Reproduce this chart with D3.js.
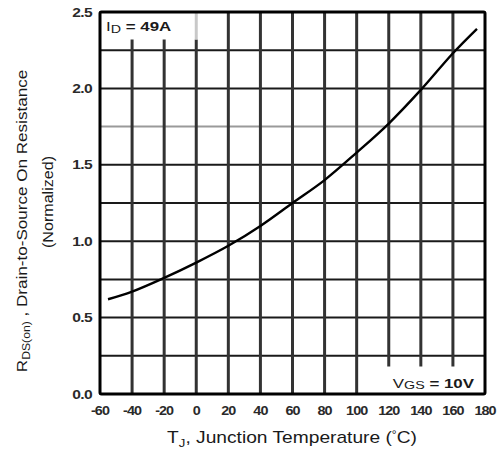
<!DOCTYPE html>
<html>
<head>
<meta charset="utf-8">
<script src="https://cdn.jsdelivr.net/npm/d3@7"></script>
<style>
  html, body { margin: 0; padding: 0; background: #fff; }
  svg { display: block; font-family: "Liberation Sans", Arial, sans-serif; }
</style>
</head>
<body>
<svg id="chart" width="503" height="452"></svg>
<script>
// Normalized on-resistance vs. junction temperature
const temperature = [-55, -40, -20, 0, 20, 40, 60, 80, 100, 120, 140, 160, 175];
const resistance  = [0.62, 0.67, 0.76, 0.86, 0.97, 1.10, 1.25, 1.40, 1.58, 1.77, 1.99, 2.23, 2.39];

const xTicks = [-60, -40, -20, 0, 20, 40, 60, 80, 100, 120, 140, 160, 180];
const yTicks = [0.0, 0.5, 1.0, 1.5, 2.0, 2.5];
const yGrid  = [0.25, 0.5, 0.75, 1.0, 1.25, 1.5, 1.75, 2.0, 2.25];

const svg = d3.select("#chart");
const m = { left: 100, right: 485, top: 12, bottom: 394 };

const x = d3.scaleLinear().domain([-60, 180]).range([m.left, m.right]);
const y = d3.scaleLinear().domain([0, 2.5]).range([m.bottom, m.top]);

// label boxes: top-left (ID) and bottom-right (VGS) clear the grid beneath them
const idBoxBottom = y(2.32);
const vgsBoxTop = y(0.18);

const g = svg.append("g");

// horizontal grid
g.selectAll("line.h").data(yGrid).enter().append("line")
  .attr("x1", m.left).attr("x2", m.right)
  .attr("y1", d => y(d)).attr("y2", d => y(d))
  .attr("stroke", d => d === 1.75 ? "#9a9a9a" : "#1a1a1a")
  .attr("stroke-width", 2);

// vertical grid
const vGrid = xTicks.slice(1, -1);
g.selectAll("line.v").data(vGrid).enter().append("line")
  .attr("x1", d => x(d)).attr("x2", d => x(d))
  .attr("y1", d => d <= 0 ? idBoxBottom : m.top)
  .attr("y2", d => d > 100 ? vgsBoxTop : m.bottom)
  .attr("stroke", "#333")
  .attr("stroke-width", 3);

// faint upper piece of the 0 °C line beside the ID label
g.append("line")
  .attr("x1", x(0)).attr("x2", x(0))
  .attr("y1", m.top).attr("y2", idBoxBottom)
  .attr("stroke", "#c8c8c8").attr("stroke-width", 3);

// frame
g.append("rect")
  .attr("x", m.left).attr("y", m.top)
  .attr("width", m.right - m.left).attr("height", m.bottom - m.top)
  .attr("rx", 1.5)
  .attr("fill", "none").attr("stroke", "#000").attr("stroke-width", 3);

// curve
const line = d3.line()
  .x((d, i) => x(temperature[i]))
  .y(d => y(d))
  .curve(d3.curveCatmullRom.alpha(0.5));
g.append("path")
  .datum(resistance)
  .attr("d", line)
  .attr("fill", "none")
  .attr("stroke", "#000")
  .attr("stroke-width", 2.4);

// text drawn with a wide face: horizontally stretched glyphs
function wide(sel, px, py, sx, rot) {
  return sel.attr("transform", `translate(${px},${py})` + (rot ? ` rotate(${rot})` : "") + ` scale(${sx},1)`);
}

// y tick labels
svg.append("g").selectAll("text").data(yTicks).enter().append("text")
  .each(function(d) { wide(d3.select(this), 92, y(d) + 4.5, 1.25); })
  .attr("text-anchor", "end")
  .attr("font-size", 12.5).attr("font-weight", "bold").attr("fill", "#2a2a2a")
  .attr("letter-spacing", -0.5)
  .text(d => d.toFixed(1));

// x tick labels
svg.append("g").selectAll("text").data(xTicks).enter().append("text")
  .each(function(d) { wide(d3.select(this), x(d), 415, 1.15); })
  .attr("text-anchor", "middle")
  .attr("font-size", 12.5).attr("font-weight", "bold").attr("fill", "#2a2a2a")
  .attr("letter-spacing", -0.8)
  .text(d => d);

// x axis title
const xt = svg.append("text")
  .attr("text-anchor", "middle")
  .attr("font-size", 16).attr("fill", "#1a1a1a");
wide(xt, 292, 443, 1.2);
xt.append("tspan").text("T");
xt.append("tspan").attr("font-size", 11).attr("dy", 4).text("J");
xt.append("tspan").attr("dy", -4).text(", Junction Temperature  (");
xt.append("tspan").attr("font-size", 10).attr("dy", -5).text("°");
xt.append("tspan").attr("dy", 5).text("C)");

// y axis title, two lines
const yt = svg.append("text")
  .attr("text-anchor", "middle")
  .attr("font-size", 14).attr("fill", "#1a1a1a");
wide(yt, 27, 221, 1.22, -90);
yt.append("tspan").text("R");
yt.append("tspan").attr("font-size", 10).attr("dy", 3).text("DS(on)");
yt.append("tspan").attr("dy", -3).text(" , Drain-to-Source On Resistance");

const yt2 = svg.append("text")
  .attr("text-anchor", "middle")
  .attr("font-size", 14).attr("fill", "#1a1a1a")
  .text("(Normalized)");
wide(yt2, 53, 202, 1.15, -90);

// annotations
const idLabel = svg.append("text")
  .attr("font-size", 13).attr("fill", "#1a1a1a");
wide(idLabel, 106, 31, 1.3);
idLabel.append("tspan").text("I");
idLabel.append("tspan").attr("font-size", 11).attr("dy", 2).text("D");
idLabel.append("tspan").attr("dy", -2).attr("font-weight", "bold").text(" = 49A");

const vgsLabel = svg.append("text")
  .attr("text-anchor", "end")
  .attr("font-size", 13).attr("fill", "#1a1a1a");
wide(vgsLabel, 474, 388, 1.3);
vgsLabel.append("tspan").text("V");
vgsLabel.append("tspan").attr("font-size", 11).attr("dy", 1).text("GS");
vgsLabel.append("tspan").attr("dy", -1).attr("font-weight", "bold").text(" = 10V");
</script>
</body>
</html>
